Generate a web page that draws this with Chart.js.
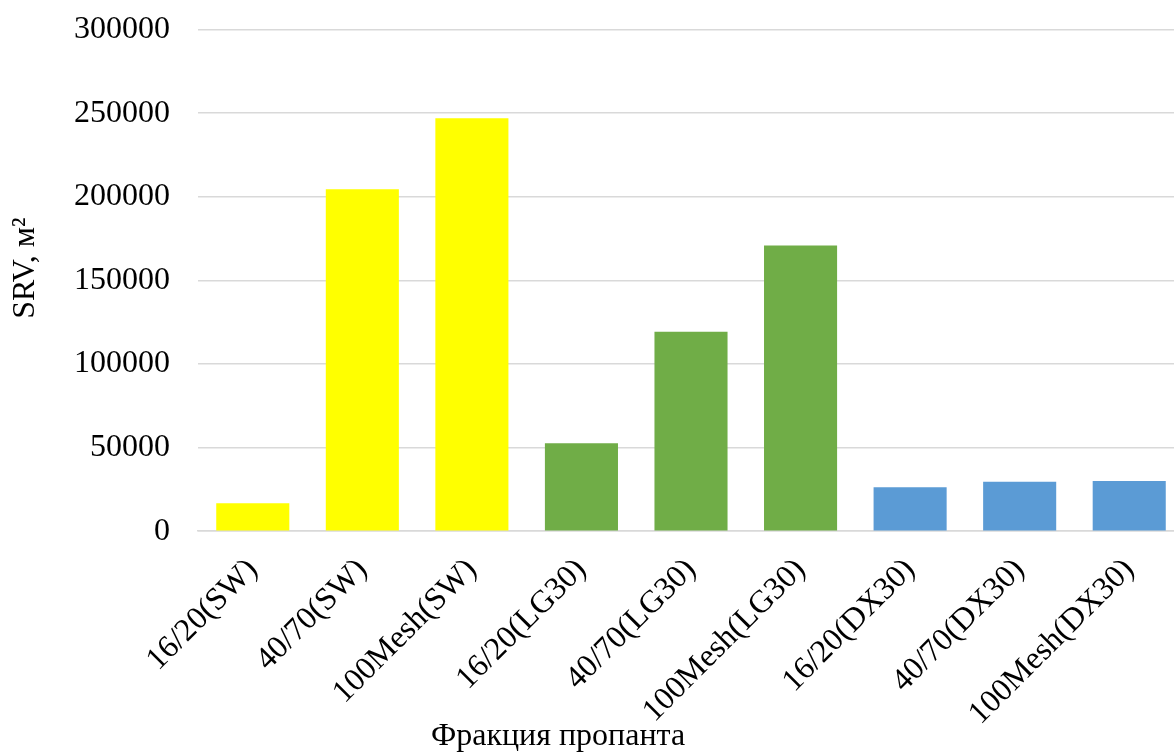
<!DOCTYPE html>
<html>
<head>
<meta charset="utf-8">
<script src="https://cdn.jsdelivr.net/npm/chart.js@4.4.1/dist/chart.umd.min.js"></script>
<style>
    html, body { margin: 0; padding: 0; background: #fff; overflow: hidden; }
    #wrap { position: relative; width: 1184px; height: 753px; }
</style>
</head>
<body>
<div id="wrap"><canvas id="srvChart"></canvas></div>
<script>
// Фракции пропанта и объём стимулированной зоны (SRV)
const categories = [
    '16/20(SW)', '40/70(SW)', '100Mesh(SW)',
    '16/20(LG30)', '40/70(LG30)', '100Mesh(LG30)',
    '16/20(DX30)', '40/70(DX30)', '100Mesh(DX30)'
];
const srvValues = [16800, 204500, 247000, 52600, 119300, 170900, 26300, 29600, 30000];
const barColors = [
    '#FFFF00', '#FFFF00', '#FFFF00',
    '#70AD47', '#70AD47', '#70AD47',
    '#5B9BD5', '#5B9BD5', '#5B9BD5'
];
const yTicks = [0, 50000, 100000, 150000, 200000, 250000, 300000];

const serif = "'Liberation Serif', 'Times New Roman', serif";

// Подписи осей рисуем вручную: обе смещены относительно центра области построения
const axisTitles = {
    id: 'axisTitles',
    afterDraw(chart) {
        const ctx = chart.ctx;
        ctx.save();
        ctx.font = '32px ' + serif;
        ctx.fillStyle = '#000';
        ctx.textAlign = 'center';
        ctx.textBaseline = 'middle';
        ctx.fillText('Фракция пропанта', 558, 737);
        ctx.translate(26, 268);
        ctx.rotate(-Math.PI / 2);
        ctx.fillText('SRV, м²', 0, 0);
        ctx.restore();
    }
};

document.addEventListener('DOMContentLoaded', function() {
    const ctx = document.getElementById('srvChart');
    new Chart(ctx.getContext('2d'), {
        type: 'bar',
        data: {
            labels: categories,
            datasets: [{
                data: srvValues,
                backgroundColor: barColors,
                borderWidth: 0,
                barPercentage: 1,
                categoryPercentage: 0.667
            }]
        },
        options: {
            responsive: true,
            maintainAspectRatio: false,
            animation: false,
            layout: {
                padding: { top: 0, left: 46, right: 0, bottom: 8 }
            },
            plugins: {
                legend: { display: false },
                tooltip: { enabled: false }
            },
            scales: {
                x: {
                    grid: { display: false },
                    border: { color: '#d9d9d9', width: 1.5 },
                    afterFit: function(axis) {
                        // повёрнутые подписи не должны сдвигать область построения
                        axis.paddingLeft = 0;
                        axis.paddingRight = 0;
                    },
                    ticks: {
                        color: '#000',
                        minRotation: 45,
                        maxRotation: 45,
                        padding: 12,
                        font: { family: serif, size: 32 }
                    }
                },
                y: {
                    min: 0,
                    max: 300000,
                    afterBuildTicks: function(axis) {
                        axis.ticks = yTicks.map(v => ({ value: v }));
                    },
                    afterFit: function(axis) {
                        axis.paddingTop = 29.5;
                        axis.paddingBottom = 0;
                    },
                    grid: { color: '#d9d9d9', lineWidth: 1.5, drawTicks: false },
                    border: { display: false },
                    ticks: {
                        color: '#000',
                        padding: 28,
                        font: { family: serif, size: 32 },
                        callback: v => String(v)
                    }
                }
            }
        },
        plugins: [axisTitles]
    });
});
</script>
</body>
</html>
